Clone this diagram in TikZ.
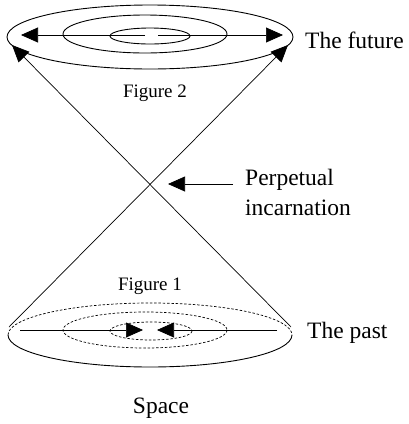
\documentclass[tikz,border=0pt]{standalone}
\usepackage{fontspec}
\setmainfont{Liberation Serif}
\usetikzlibrary{arrows.meta,positioning}

\begin{document}
\begin{tikzpicture}[x=1pt,y=-1pt,
          rim/.style={line width=0.9pt},
          dashrim/.style={line width=0.7pt, dash pattern=on 2.5pt off 1.8pt},
          ray/.style={line width=0.7pt},
          label/.style={inner sep=0pt, font=\fontsize{23.5}{27}\selectfont},
          figlabel/.style={inner sep=0pt, font=\fontsize{19}{22}\selectfont},
          >={Triangle[length=17pt,width=15pt]}
        ]
          \useasboundingbox (0,0) rectangle (409,424);
          % the future
          \draw[rim] (150,37) ellipse [x radius=143, y radius=32];
          \draw[rim] (145,34) ellipse [x radius=82, y radius=19];
          \draw[rim] (150,36) ellipse [x radius=40, y radius=8];
          \coordinate (topC1) at (145,35);
          \coordinate (topC2) at (158,35);
          \coordinate (topL) at (21,35);
          \coordinate (topR) at (283,35);
          \draw[->,ray] (topC1) -- (topL);
          \draw[->,ray] (topC2) -- (topR);
          % the past
          \draw[dashrim] (8,335) arc [start angle=180, end angle=360, x radius=142, y radius=32];
          \draw[rim] (8,335) arc [start angle=180, end angle=0, x radius=142, y radius=32];
          \draw[dashrim] (145,330) ellipse [x radius=82, y radius=18];
          \draw[dashrim] (151,331) ellipse [x radius=41, y radius=9];
          \coordinate (botL) at (20,330);
          \coordinate (botR) at (277,330);
          \coordinate (botC1) at (143,330);
          \coordinate (botC2) at (157,330);
          \draw[->,ray] (botL) -- (botC1);
          \draw[->,ray] (botR) -- (botC2);
          % the cone
          \coordinate (coneTL) at (12,45);
          \coordinate (coneTR) at (288,45);
          \coordinate (coneBL) at (9,327);
          \coordinate (coneBR) at (291,327);
          \draw[->,ray] (coneBR) -- (coneTL);
          \draw[->,ray] (coneBL) -- (coneTR);
          % labels
          \node[label, anchor=base west] (future) at (305,48) {The future};
          \node[label, anchor=base west] (past) at (307,338) {The past};
          \node[figlabel, anchor=base] (fig2) at (155,97) {Figure 2};
          \node[figlabel, anchor=base] (fig1) at (150,290) {Figure 1};
          \node[label, anchor=base] (space) at (161,413) {Space};
          \node[label, anchor=base west] (perp) at (245,185) {Perpetual};
          \node[label, anchor=base west] (incarn) at (245,215) {incarnation};
          \coordinate (tail) at (233,184);
          \coordinate (cross) at (168,184);
          \draw[->,ray] (tail) -- (cross);
        \end{tikzpicture}
\end{document}
